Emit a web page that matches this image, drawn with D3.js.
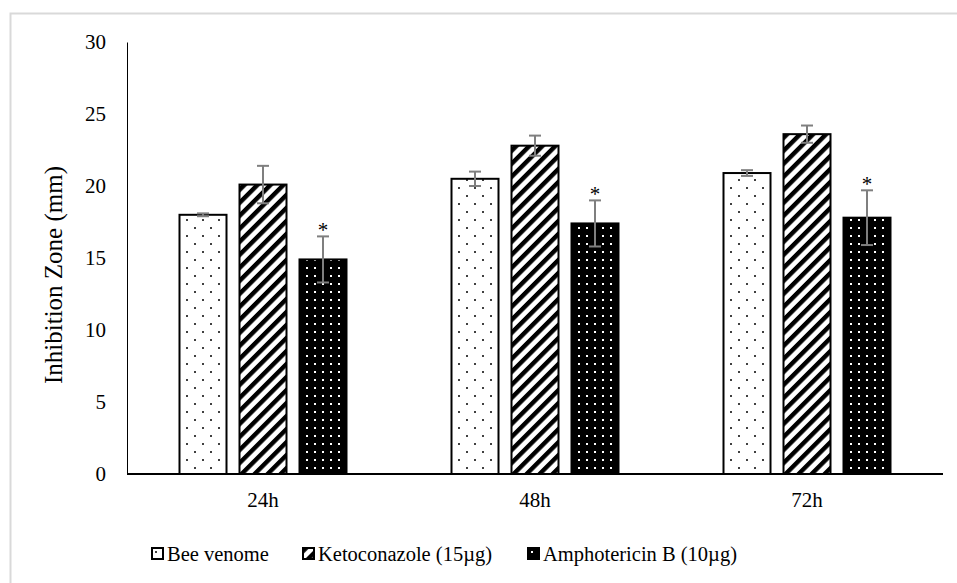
<!DOCTYPE html>
<html>
<head>
<meta charset="utf-8">
<script src="https://cdn.jsdelivr.net/npm/d3@7"></script>
<style>
  body { margin: 0; background: #fff; }
</style>
</head>
<body>
<script>
// Datos de la grafica
const categories = ["24h", "48h", "72h"];
const series = ["Bee venome", "Ketoconazole (15\u00b5g)", "Amphotericin B (10\u00b5g)"];
const beeVenom = [18.0, 20.5, 20.9];
const ketoconazole = [20.1, 22.8, 23.6];
const amphotericin = [14.9, 17.4, 17.8];
const beeErr = [0.1, 0.5, 0.2];
const ketoErr = [1.3, 0.7, 0.6];
const amphoErr = [1.6, 1.6, 1.9];
const yTicks = [0, 5, 10, 15, 20, 25, 30];
const starred = [false, false, true]; // asterisco solo en Amphotericin B

const values = [beeVenom, ketoconazole, amphotericin];
const errors = [beeErr, ketoErr, amphoErr];
const fills = ["url(#dots)", "url(#stripes)", "url(#blackdots)"];

const w = 957;
const h = 583;

var svg = d3.select("body")
    .append("svg")
    .attr("width", w)
    .attr("height", h);

// Patrones de relleno
var defs = svg.append("defs");

var dots = defs.append("pattern")
    .attr("id", "dots")
    .attr("patternUnits", "userSpaceOnUse")
    .attr("width", 16)
    .attr("height", 16);
dots.append("rect").attr("width", 16).attr("height", 16).attr("fill", "white");
dots.append("circle").attr("cx", 4).attr("cy", 4).attr("r", 1).attr("fill", "black");
dots.append("circle").attr("cx", 12).attr("cy", 12).attr("r", 1).attr("fill", "black");

var stripes = defs.append("pattern")
    .attr("id", "stripes")
    .attr("patternUnits", "userSpaceOnUse")
    .attr("width", 9.2)
    .attr("height", 9.2)
    .attr("patternTransform", "rotate(45)");
stripes.append("rect").attr("width", 9.2).attr("height", 9.2).attr("fill", "white");
stripes.append("rect").attr("width", 4.4).attr("height", 9.2).attr("fill", "black");

var bdots = defs.append("pattern")
    .attr("id", "blackdots")
    .attr("patternUnits", "userSpaceOnUse")
    .attr("width", 8)
    .attr("height", 8);
bdots.append("rect").attr("width", 8).attr("height", 8).attr("fill", "black");
bdots.append("rect").attr("x", 3).attr("y", 3).attr("width", 2).attr("height", 2).attr("fill", "white");

// Marco exterior gris
svg.append("rect")
    .attr("x", 10.5)
    .attr("y", 13.5)
    .attr("width", 980)
    .attr("height", 620)
    .attr("fill", "none")
    .attr("stroke", "#d9d9d9")
    .attr("stroke-width", 2);

// Escalas
var x0 = d3.scaleBand()
    .domain(categories)
    .range([127, 943]);

var x1 = d3.scaleBand()
    .domain(d3.range(series.length))
    .range([52.5, 219.5])
    .paddingInner(13 / 60);

var y = d3.scaleLinear()
    .domain([0, 30])
    .range([474, 42]);

// Eje Y
var yAxis = svg.append("g")
    .attr("transform", "translate(127,0)")
    .call(d3.axisLeft(y).tickValues(yTicks).tickSize(0).tickPadding(21));
yAxis.select(".domain").attr("stroke", "black").attr("stroke-width", 1);
yAxis.selectAll("text")
    .attr("font-family", "Liberation Serif, Times New Roman, serif")
    .attr("font-size", "21px")
    .attr("fill", "black");

// Barras
var groups = svg.selectAll(".grp")
    .data(categories)
    .enter()
    .append("g")
    .attr("class", "grp")
    .attr("transform", (d) => "translate(" + x0(d) + ",0)");

groups.selectAll("rect")
    .data((d, i) => values.map((s, j) => ({ s: j, v: s[i], e: errors[j][i] })))
    .enter()
    .append("rect")
    .attr("x", (d) => x1(d.s))
    .attr("y", (d) => y(d.v))
    .attr("width", x1.bandwidth())
    .attr("height", (d) => y(0) - y(d.v))
    .attr("fill", (d) => fills[d.s])
    .attr("stroke", "black")
    .attr("stroke-width", 2);

// Barras de error
var err = groups.selectAll(".err")
    .data((d, i) => values.map((s, j) => ({ s: j, v: s[i], e: errors[j][i] })))
    .enter()
    .append("g")
    .attr("class", "err")
    .attr("stroke", "#7f7f7f")
    .attr("stroke-width", 2);

err.append("line")
    .attr("x1", (d) => x1(d.s) + x1.bandwidth() / 2)
    .attr("x2", (d) => x1(d.s) + x1.bandwidth() / 2)
    .attr("y1", (d) => y(d.v + d.e))
    .attr("y2", (d) => y(d.v - d.e));
err.append("line")
    .attr("x1", (d) => x1(d.s) + x1.bandwidth() / 2 - 6)
    .attr("x2", (d) => x1(d.s) + x1.bandwidth() / 2 + 6)
    .attr("y1", (d) => y(d.v + d.e))
    .attr("y2", (d) => y(d.v + d.e));
err.append("line")
    .attr("x1", (d) => x1(d.s) + x1.bandwidth() / 2 - 6)
    .attr("x2", (d) => x1(d.s) + x1.bandwidth() / 2 + 6)
    .attr("y1", (d) => y(d.v - d.e))
    .attr("y2", (d) => y(d.v - d.e));

// Asteriscos
groups.selectAll(".star")
    .data((d, i) => values.map((s, j) => ({ s: j, v: s[i], e: errors[j][i] })).filter((d) => starred[d.s]))
    .enter()
    .append("text")
    .attr("class", "star")
    .text("*")
    .attr("x", (d) => x1(d.s) + x1.bandwidth() / 2)
    .attr("y", (d) => y(d.v + d.e) + 1)
    .attr("text-anchor", "middle")
    .attr("font-family", "Liberation Serif, Times New Roman, serif")
    .attr("font-size", "21px")
    .attr("fill", "black");

// Eje X
svg.append("line")
    .attr("x1", 127)
    .attr("x2", 943)
    .attr("y1", y(0))
    .attr("y2", y(0))
    .attr("stroke", "black")
    .attr("stroke-width", 2);

svg.selectAll(".xlab")
    .data(categories)
    .enter()
    .append("text")
    .attr("class", "xlab")
    .text((d) => d)
    .attr("x", (d) => x0(d) + x0.bandwidth() / 2)
    .attr("y", 507)
    .attr("text-anchor", "middle")
    .attr("font-family", "Liberation Serif, Times New Roman, serif")
    .attr("font-size", "21px")
    .attr("fill", "black");

// Titulo del eje Y
svg.append("text")
    .text("Inhibition Zone (mm)")
    .attr("transform", "translate(53,275) rotate(-90)")
    .attr("text-anchor", "middle")
    .attr("dominant-baseline", "central")
    .attr("font-family", "Liberation Serif, Times New Roman, serif")
    .attr("font-size", "25px")
    .attr("fill", "black");

// Leyenda
const legendX = [152, 303, 528];
var legend = svg.selectAll(".leg")
    .data(series)
    .enter()
    .append("g")
    .attr("class", "leg")
    .attr("transform", (d, i) => "translate(" + legendX[i] + ",548)");

legend.append("rect")
    .attr("width", 11)
    .attr("height", 11)
    .attr("fill", (d, i) => fills[i])
    .attr("stroke", "black")
    .attr("stroke-width", 2);

legend.append("text")
    .text((d) => d)
    .attr("x", 15)
    .attr("y", 13)
    .attr("font-family", "Liberation Serif, Times New Roman, serif")
    .attr("font-size", "20.5px")
    .attr("fill", "black");
</script>
</body>
</html>
